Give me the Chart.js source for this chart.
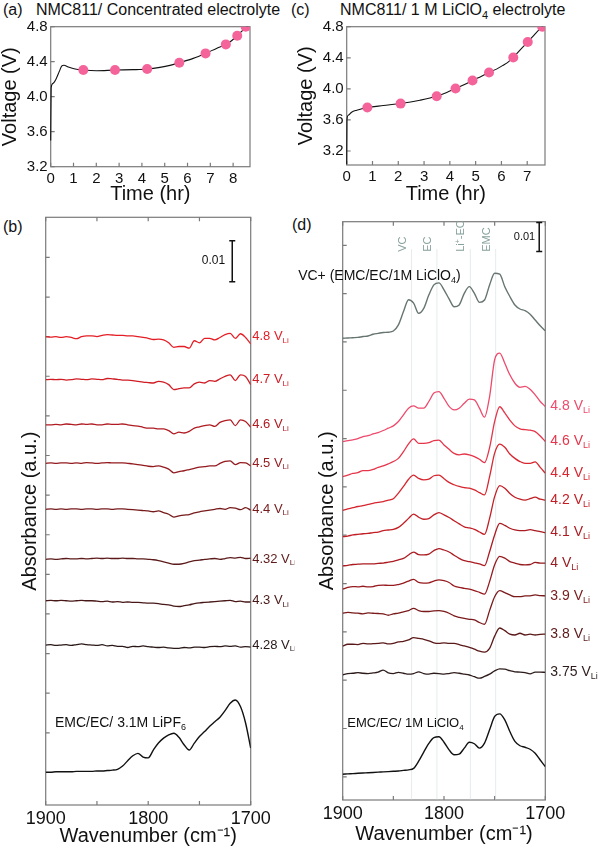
<!DOCTYPE html>
<html>
<head>
<meta charset="utf-8">
<title>NMC811 in situ IR</title>
<script src="https://cdn.jsdelivr.net/npm/chart.js@4.4.1/dist/chart.umd.min.js"></script>
<style>
  body { margin: 0; background: #fff; }
  #page { position: relative; width: 600px; height: 849px; font-family: 'Liberation Sans', Arial, sans-serif; color: #111; }
  #page canvas { position: absolute; }
  .head { position: absolute; font-size: 16px; line-height: 18px; white-space: nowrap; }
  .head sub { font-size: 11px; line-height: 0; }
</style>
</head>
<body>
<div id="page">
  <div class="head" style="left:3px; top:1px;">(a)&nbsp;&nbsp;&nbsp;NMC811/ Concentrated electrolyte</div>
  <div class="head" style="left:291px; top:1px;">(c)</div>
  <div class="head" style="left:340px; top:1px;">NMC811/ 1 M LiClO<sub>4</sub> electrolyte</div>
  <div class="head" style="left:3px; top:218px;">(b)</div>
  <div class="head" style="left:292px; top:216px;">(d)</div>
  <canvas id="chartA" width="290" height="205" style="left:0;top:0"></canvas>
  <canvas id="chartC" width="310" height="205" style="left:290px;top:0"></canvas>
  <canvas id="chartB" width="295" height="644" style="left:0;top:205px"></canvas>
  <canvas id="chartD" width="310" height="644" style="left:290px;top:205px"></canvas>
</div>
<script>
const FONT = "'Liberation Sans', Arial, sans-serif";
Chart.defaults.font.family = FONT;
Chart.defaults.color = '#111';
Chart.defaults.animation = false;

// (a) charge curve, concentrated electrolyte
const timeA = [0, 0.02, 0.09, 0.23, 0.38, 0.48, 0.58, 0.77, 1.07, 1.43, 2.01, 2.82, 3.62, 4.23, 4.79, 5.23, 5.64, 6.25, 6.79, 7.27, 7.68, 7.93, 8.18, 8.36, 8.55, 8.70];
const voltA = [3.50, 4.10, 4.15, 4.20, 4.29, 4.35, 4.36, 4.34, 4.316, 4.305, 4.297, 4.305, 4.309, 4.316, 4.335, 4.358, 4.389, 4.438, 4.495, 4.552, 4.598, 4.64, 4.697, 4.743, 4.792, 4.81];
const markTimeA = [1.43, 2.82, 4.23, 5.64, 6.79, 7.68, 8.18, 8.55];
const markVoltA = [4.305, 4.305, 4.316, 4.389, 4.495, 4.598, 4.697, 4.8];

// (c) charge curve, 1 M LiClO4
const timeC = [0, 0.01, 0.06, 0.19, 0.39, 0.8, 1.42, 2.09, 2.84, 3.49, 3.88, 4.22, 4.59, 4.88, 5.23, 5.52, 5.81, 6.07, 6.27, 6.46, 6.72, 7.02, 7.30, 7.58, 7.69];
const voltC = [3.03, 3.60, 3.66, 3.70, 3.725, 3.759, 3.785, 3.811, 3.854, 3.905, 3.953, 4.004, 4.06, 4.108, 4.163, 4.211, 4.254, 4.305, 4.348, 4.404, 4.499, 4.602, 4.705, 4.8, 4.834];
const markTimeC = [0.80, 2.09, 3.49, 4.22, 4.88, 5.52, 6.46, 7.02, 7.58];
const markVoltC = [3.76, 3.81, 3.905, 4.004, 4.108, 4.211, 4.404, 4.602, 4.8];

const voltTicks = [3.2, 3.6, 4.0, 4.4, 4.8];

// IR spectra, wavenumber grid (cm-1)
const wavenumbers = [1900, 1895, 1890, 1885, 1880, 1875, 1870, 1865, 1860, 1855, 1850, 1845, 1840, 1835, 1830, 1825, 1820, 1815, 1810, 1805, 1800, 1795, 1790, 1785, 1780, 1775, 1770, 1765, 1760, 1755, 1750, 1745, 1740, 1735, 1730, 1725, 1720, 1715, 1710, 1705, 1700];

// (b) concentrated electrolyte, absorbance change (x 10^-3) above each baseline
const potentialsB = ['4.8', '4.7', '4.6', '4.5', '4.4', '4.32', '4.3', '4.28'];
const offsetsB = [114.2, 103.7, 92.7, 83.3, 72.1, 59.9, 49.8, 39.0];
const b48 = [0, -0.1, 0, -0.2, 0, -0.2, -0.5, 0, 0.2, 0.2, 0, 0.3, 0.5, 0.4, 0.3, 0.3, 0.2, 0.2, 0, -0.2, -0.4, -0.7, -0.6, -0.8, -1.5, -2.6, -2.4, -2.4, -2.8, -1.0, -1.5, -0.4, -0.4, -0.8, -0.2, 0.5, 0.8, -0.4, 0.7, -0.2, -1.8];
const b47 = [0, 0.1, 0, 0.1, -0.1, 0, 0.2, 0.1, 0, 0.2, 0.1, 0, 0.3, 0.2, 0.1, -0.1, -0.1, -0.2, -0.4, -0.6, -0.7, -0.8, -0.4, -0.6, -1.2, -2.4, -2.2, -2.0, -2.0, -1.0, -0.6, -0.8, -0.2, -0.4, 0.2, 0.8, 1.2, -0.2, 1.2, 0.8, -1.2];
const b46 = [0, 0, 0.1, 0, 0.2, 0.1, 0, 0.2, 0.1, 0.2, 0, 0, 0.2, 0.1, 0.1, 0.2, 0, -0.2, -0.3, -0.6, -0.8, -0.8, -1.0, -1.0, -1.4, -2.2, -1.8, -2.0, -1.6, -0.8, -0.5, -0.2, 0, -0.4, 0.6, 1.0, 1.2, -0.2, 1.2, 0.8, -0.6];
const b45 = [0, 0.1, 0, 0.1, 0.1, 0, 0.1, 0, 0.2, 0.1, 0, 0.1, 0.2, 0.1, 0.1, 0.1, 0, -0.1, -0.3, -0.5, -0.7, -0.8, -0.6, -0.9, -1.4, -2.3, -2.0, -1.8, -1.5, -1.2, -0.9, -0.8, -0.6, -0.6, 0, 0.5, 0.6, -0.3, 0.2, 0.1, -0.6];
const b44 = [0, 0.1, 0, 0.1, 0, 0.1, 0.1, 0, 0.1, 0.1, 0, 0.1, 0.1, 0, 0.1, 0.1, 0, -0.1, -0.2, -0.3, -0.4, -0.6, -0.4, -0.8, -1.2, -1.9, -1.6, -1.4, -1.3, -0.9, -0.6, -0.4, -0.2, 0, 0.2, 0, 0.4, 0.3, -0.1, 0.4, -0.2];
const b432 = [0, 0.1, 0, 0.1, 0.2, 0.1, 0.1, 0.2, 0.1, 0.2, 0.3, 0.2, 0.3, 0.2, 0.2, 0.3, 0.2, 0.2, 0.1, 0.1, 0, -0.1, -0.3, -0.6, -0.9, -1.2, -1.2, -1.0, -0.6, -0.3, -0.2, 0, 0.1, 0.2, 0, 0.2, 0.4, 0.3, 0.5, 0.2, 0.3];
const b43 = [0, 0.1, 0, 0.1, 0, -0.1, 0, 0.1, 0, 0, -0.1, -0.2, -0.1, -0.3, -0.2, -0.4, -0.3, -0.4, -0.4, -0.5, -0.6, -0.6, -0.7, -0.9, -1.0, -1.3, -1.4, -1.2, -1.0, -0.7, -0.5, -0.4, -0.3, -0.2, -0.1, 0, 0.1, -0.2, -0.1, -0.3, -0.3];
const b428 = [0, 0.1, -0.1, 0, 0.1, -0.1, 0.1, 0.3, 0.1, 0, -0.1, 0.1, -0.2, -0.1, -0.3, -0.3, -0.6, -0.3, -0.4, -0.2, -0.4, -0.5, -0.6, -0.5, -0.7, -0.8, -0.8, -0.6, -0.7, -0.5, -0.5, -0.6, -0.4, -0.3, -0.4, -0.2, -0.3, -0.2, -0.5, -0.4, -0.5];
const refB = [0, 0, 0.1, 0.1, 0.1, 0.1, 0.2, 0.2, 0.2, 0.2, 0.3, 0.3, 0.4, 0.5, 0.7, 1.5, 2.8, 4.0, 4.6, 3.7, 3.5, 5.4, 7.1, 8.3, 9.1, 9.5, 8.5, 6.7, 5.4, 7.1, 8.7, 9.9, 11.2, 12.3, 13.4, 15.0, 16.8, 17.6, 16.0, 12.0, 5.9];
const refOffsetB = 8.0;
const specsB = [b48, b47, b46, b45, b44, b432, b43, b428];
const colorsB = ['#e41e26', '#d01c24', '#b01b22', '#931a1e', '#761a1b', '#5c1a1a', '#481818', '#2a1818'];

// (d) 1 M LiClO4
const potentialsD = ['4.8', '4.6', '4.4', '4.2', '4.1', '4', '3.9', '3.8', '3.75'];
const offsetsD = [123.6, 111.5, 99.8, 90.8, 80.7, 72.7, 64.4, 53.1, 43.1];
const d48 = [0, 0.3, 0.6, 1.0, 1.7, 2.0, 2.6, 3.1, 3.8, 4.6, 5.4, 6.9, 9.2, 11.5, 12.3, 11.5, 11.5, 13.8, 16.7, 17.2, 14.9, 12.1, 10.9, 11.5, 13.2, 14.6, 14.4, 11.5, 8.4, 15.5, 28.2, 30.5, 27.0, 23.0, 20.1, 18.7, 19.0, 18.0, 16.1, 13.8, 12.1];
const d46 = [0, 0.5, 1.1, 1.4, 2.1, 2.1, 2.5, 3.2, 3.7, 4.4, 5.2, 6.3, 8.6, 11.3, 13.0, 11.5, 11.5, 11.7, 12.4, 12.6, 10.9, 9.4, 8.0, 7.5, 7.8, 7.5, 6.9, 6.0, 4.8, 10.0, 19.0, 24.1, 22.0, 19.5, 17.5, 16.5, 16.2, 16.0, 15.5, 14.0, 12.1];
const d44 = [0, 0.6, 1.0, 1.4, 1.7, 2.1, 2.5, 2.8, 3.1, 3.6, 4.1, 6.0, 8.3, 10.8, 12.2, 11.1, 10.6, 10.8, 12.0, 12.2, 11.0, 9.7, 8.9, 8.3, 7.9, 7.7, 7.1, 6.2, 5.4, 11.7, 19.8, 22.9, 21.8, 19.5, 18.0, 16.9, 16.3, 16.3, 16.8, 14.9, 12.9];
const d42 = [0, 0.2, 0.6, 0.8, 1.0, 1.1, 1.4, 1.6, 2.1, 2.3, 2.5, 3.2, 4.6, 6.3, 7.8, 6.7, 6.0, 6.2, 7.5, 8.3, 7.5, 6.6, 5.5, 4.4, 3.4, 3.0, 2.5, 1.6, 0.8, 6.3, 13.8, 17.6, 16.7, 14.9, 13.6, 12.9, 12.6, 13.1, 13.6, 12.9, 12.6];
const d41 = [0, 0.2, 0.5, 0.6, 0.7, 0.7, 0.7, 0.9, 1.0, 1.3, 1.6, 2.1, 2.6, 3.8, 4.8, 3.9, 3.8, 4.1, 5.3, 6.0, 5.5, 4.8, 3.7, 2.6, 1.8, 1.5, 1.1, 0.7, 0.1, 4.9, 10.7, 14.7, 14.0, 13.0, 12.4, 12.2, 12.2, 12.5, 12.2, 11.8, 11.5];
const d40 = [0, 0.6, 0.9, 0.8, 1.0, 0.8, 0.9, 1.3, 1.4, 1.3, 1.3, 1.6, 2.1, 2.8, 3.4, 2.3, 2.1, 2.2, 2.8, 3.2, 2.9, 2.3, 1.1, 0.6, 0.3, 0, -0.5, -1.1, -1.7, 2.6, 8.4, 11.3, 10.7, 9.5, 9.0, 8.5, 8.4, 8.5, 9.2, 9.0, 9.0];
const d39 = [0, 0.3, 0.1, 0, -0.2, 0.1, 0, -0.1, -0.2, -0.7, -0.2, 0, 0.5, 0.9, 1.7, 0.9, 0.6, 0.6, 0.8, 0.9, 0.6, 0, -0.9, -1.4, -1.8, -2.1, -2.3, -3.2, -3.8, 0.9, 5.7, 7.8, 7.1, 6.3, 5.7, 5.7, 6.0, 6.0, 6.3, 6.1, 6.0];
const d38 = [0, 0.6, 0.6, 0.5, 0.9, 0.7, 0.8, 0.9, 1.1, 0.7, 0.9, 1.4, 1.6, 2.1, 2.9, 2.6, 2.3, 1.8, 1.1, 0.9, 1.1, 0.9, 0.9, 0.5, 0, -0.5, -1.1, -1.8, -2.1, -0.8, 3.4, 6.2, 5.3, 4.1, 3.8, 4.4, 3.8, 4.1, 3.8, 4.0, 4.1];
const d375 = [0, 0.5, 0.6, 0.8, 0.6, 0.5, 0.7, 1.0, 1.7, 0.7, 0.5, 0.9, 0.6, 0.3, 0.5, 1.1, 0.5, 0.3, 0.6, 0.5, 0.3, 0.5, 0.8, 0.6, 0.3, 0, -0.6, -1.1, -0.5, 0.3, 1.4, 2.1, 2.0, 1.5, 1.1, 1.0, 0.8, 0.4, 1.0, 1.0, 0.9];
const vcD = [0, 0.1, 0.2, 0.3, 0.6, 0.8, 1.4, 1.7, 2.0, 2.1, 2.5, 4.6, 9.2, 13.3, 12.1, 8.6, 10.3, 14.9, 18.4, 19.1, 16.7, 13.6, 10.9, 11.5, 15.5, 17.8, 15.5, 12.4, 13.2, 18.4, 22.4, 22.1, 17.8, 14.4, 11.5, 10.1, 9.5, 8.3, 6.3, 4.3, 2.6];
const refD = [0, 0.1, 0.2, 0.3, 0.4, 0.5, 0.6, 0.7, 0.8, 0.9, 1.0, 1.1, 1.3, 1.5, 2.0, 4.5, 7.6, 10.6, 12.6, 12.9, 11.0, 8.4, 6.7, 6.9, 9.0, 11.0, 10.5, 9.0, 10.7, 15.3, 19.9, 20.8, 18.7, 14.7, 11.3, 9.8, 9.3, 8.6, 7.2, 4.9, 2.6];
const vcOffsetD = 159.2;
const refOffsetD = 8.9;
const specsD = [d48, d46, d44, d42, d41, d40, d39, d38, d375];
const colorsD = ['#ee4a6c', '#e5354a', '#d7262f', '#c21e25', '#ab1b21', '#961a1e', '#7a1a1b', '#5a1818', '#2e1c1c'];

// band assignments in (d)
const bandWaves = [1832, 1807, 1774, 1749];
const bandNames = [[['VC', '']], [['EC', '']], [['Li', ''], ['+', 'sup'], ['-EC', '']], [['EMC', '']]];

function xy(xs, ys) { return xs.map((x, i) => ({ x: x, y: ys[i] })); }

function drawRich(ctx, parts, x, y, size, color) {
  ctx.fillStyle = color;
  ctx.textBaseline = 'middle';
  ctx.textAlign = 'left';
  let cx = x;
  parts.forEach(([text, kind]) => {
    const s = kind ? Math.round(size * 0.65) : size;
    const dy = kind === 'sub' ? size * 0.3 : (kind === 'sup' ? -size * 0.3 : 0);
    ctx.font = s + 'px ' + FONT;
    ctx.fillText(text, cx, y + dy);
    cx += ctx.measureText(text).width;
  });
}

function scaleBar(chart, w, v1, v2, tw, size) {
  const { ctx, scales } = chart;
  const x = scales.x.getPixelForValue(w);
  const y1 = scales.y.getPixelForValue(v1), y2 = scales.y.getPixelForValue(v2);
  ctx.strokeStyle = '#111';
  ctx.lineWidth = 1.5;
  ctx.beginPath();
  ctx.moveTo(x, y1); ctx.lineTo(x, y2);
  ctx.moveTo(x - 3, y1); ctx.lineTo(x + 3, y1);
  ctx.moveTo(x - 3, y2); ctx.lineTo(x + 3, y2);
  ctx.stroke();
  ctx.fillStyle = '#111';
  ctx.font = size + 'px ' + FONT;
  ctx.textAlign = 'right';
  ctx.textBaseline = 'middle';
  ctx.fillText('0.01', scales.x.getPixelForValue(tw), (y1 + y2) / 2);
}

// box round the plot and tick marks pointing inwards, drawn under the data
const framePlugin = {
  id: 'frame',
  beforeDatasetsDraw(chart, args, opts) {
    const { ctx, chartArea: a, scales } = chart;
    ctx.save();
    ctx.strokeStyle = '#7a7a7a';
    ctx.lineWidth = 1.2;
    ctx.strokeRect(a.left, a.top, a.right - a.left, a.bottom - a.top);
    ctx.beginPath();
    scales.x.ticks.forEach(t => {
      const px = scales.x.getPixelForValue(t.value);
      ctx.moveTo(px, a.bottom); ctx.lineTo(px, a.bottom - 4);
      if (opts.top) { ctx.moveTo(px, a.top); ctx.lineTo(px, a.top + 4); }
    });
    scales.y.ticks.forEach(t => {
      const py = scales.y.getPixelForValue(t.value);
      ctx.moveTo(a.left, py); ctx.lineTo(a.left + 4, py);
    });
    ctx.stroke();
    ctx.restore();
  }
};
Chart.register(framePlugin);

const noGrid = { display: false, drawTicks: false };

function voltageChart(id, c) {
  return new Chart(document.getElementById(id), {
    type: 'line',
    data: {
      datasets: [
        { data: xy(c.mt, c.mv), showLine: false, pointRadius: 5, pointHoverRadius: 5,
          pointBackgroundColor: '#f4649a', pointBorderWidth: 0 },
        { data: xy(c.t, c.v), borderColor: '#111', borderWidth: 1.1, pointRadius: 0,
          cubicInterpolationMode: 'monotone', clip: { left: 2, top: 0, right: 0, bottom: 0 } }
      ]
    },
    options: {
      responsive: false,
      layout: { padding: { top: 26.7, right: c.padRight, bottom: 0, left: 0 } },
      plugins: { legend: { display: false }, tooltip: { enabled: false }, frame: { top: false } },
      scales: {
        x: {
          type: 'linear', min: 0, max: c.xMax,
          grid: noGrid, border: { display: false },
          ticks: { stepSize: 1, includeBounds: false, maxRotation: 0, padding: 3, font: { size: 15 }, color: '#111' },
          afterFit: s => { s.height = c.xHeight; },
          title: { display: true, text: 'Time (hr)', font: { size: 20, lineHeight: 1 }, padding: { top: 0, bottom: 1 }, color: '#111' }
        },
        y: {
          min: c.yMin, max: 4.8,
          grid: noGrid, border: { display: false },
          afterBuildTicks: s => { s.ticks = voltTicks.map(v => ({ value: v })); },
          ticks: { padding: 3, font: { size: 15 }, color: '#111', callback: v => v.toFixed(1) },
          afterFit: s => { s.width = c.yWidth; },
          title: { display: true, text: 'Voltage (V)', font: { size: 20, lineHeight: 1 }, padding: { top: c.titlePad, bottom: 0 }, color: '#111' }
        }
      }
    }
  });
}

voltageChart('chartA', { t: timeA, v: voltA, mt: markTimeA, mv: markVoltA, xMax: 8.74, yMin: 3.2,
  padRight: 40, xHeight: 38.3, yWidth: 50.7, titlePad: 0 });
voltageChart('chartC', { t: timeC, v: voltC, mt: markTimeC, mv: markVoltC, xMax: 7.69, yMin: 3.02,
  padRight: 55, xHeight: 40, yWidth: 56.7, titlePad: 6.7 });

function traces(specs, offsets, colors, width) {
  return specs.map((s, i) => ({
    data: xy(wavenumbers, s.map(v => v + offsets[i])),
    borderColor: colors[i], borderWidth: width, pointRadius: 0,
    cubicInterpolationMode: 'monotone'
  }));
}

function rightLabels(names, colors, values, size, gap) {
  return {
    id: 'rightLabels',
    afterDraw(chart) {
      const { ctx, chartArea, scales } = chart;
      ctx.save();
      names.forEach((n, i) => {
        drawRich(ctx, [[n + ' V', ''], ['Li', 'sub']], chartArea.right + gap,
          scales.y.getPixelForValue(values[i]), size, colors[i]);
      });
      ctx.restore();
    }
  };
}

function spectrumChart(id, c) {
  return new Chart(document.getElementById(id), {
    type: 'line',
    data: { datasets: c.datasets },
    options: {
      responsive: false,
      layout: { padding: { top: c.padTop, right: c.padRight, bottom: 0, left: 0 } },
      plugins: { legend: { display: false }, tooltip: { enabled: false }, frame: { top: true } },
      scales: {
        x: {
          type: 'linear', reverse: true, min: 1700, max: 1900,
          grid: noGrid, border: { display: false },
          ticks: { stepSize: 50, autoSkip: false, maxRotation: 0, padding: 3, font: { size: 18 }, color: '#111',
            callback: v => (v % 100 === 0 ? String(v) : '') },
          afterFit: s => { s.height = c.xHeight; },
          title: { display: true, text: 'Wavenumber (cm\u207B\u00B9)', font: { size: 20, lineHeight: 1 },
            padding: { top: 0, bottom: c.xTitlePad }, color: '#111' }
        },
        y: {
          min: 0, max: c.yMax,
          grid: noGrid, border: { display: false },
          ticks: { display: false },
          afterBuildTicks: s => {
            const list = [];
            for (let v = c.tickStart; v < c.yMax - 1; v += c.tickStep) list.push({ value: v });
            s.ticks = list;
          },
          afterFit: s => { s.width = c.yWidth; },
          title: { display: true, text: 'Absorbance (a.u.)', font: { size: 20, lineHeight: 1 },
            padding: { top: c.yTitlePad, bottom: 0 }, color: '#111' }
        }
      }
    },
    plugins: c.plugins
  });
}

// (b)
const datasetsB = traces(specsB, offsetsB, colorsB, 1.3).concat([{
  data: xy(wavenumbers, refB.map(v => v + refOffsetB)), borderColor: '#111', borderWidth: 1.4,
  pointRadius: 0, cubicInterpolationMode: 'monotone'
}]);
const extrasB = {
  id: 'extrasB',
  afterDraw(chart) {
    const { ctx, scales } = chart;
    ctx.save();
    scaleBar(chart, 1718, 127.6, 137.6, 1725, 12);
    drawRich(ctx, [['EMC/EC/ 3.1M LiPF', ''], ['6', 'sub']], scales.x.getPixelForValue(1891),
      scales.y.getPixelForValue(19.9), 14, '#111');
    ctx.restore();
  }
};
spectrumChart('chartB', {
  datasets: datasetsB, yMax: 143.3, tickStart: 17.6, tickStep: 9.66,
  padTop: 12.3, padRight: 44.3, xHeight: 44, yWidth: 45.7, xTitlePad: 3, yTitlePad: 20,
  plugins: [rightLabels(potentialsB, colorsB, offsetsB, 13, 1.5), extrasB]
});

// (d)
const datasetsD = traces(specsD, offsetsD, colorsD, 1.3).concat([
  { data: xy(wavenumbers, vcD.map(v => v + vcOffsetD)), borderColor: '#66756f', borderWidth: 1.4,
    pointRadius: 0, cubicInterpolationMode: 'monotone' },
  { data: xy(wavenumbers, refD.map(v => v + refOffsetD)), borderColor: '#111', borderWidth: 1.4,
    pointRadius: 0, cubicInterpolationMode: 'monotone' }
]);
const endsD = specsD.map((s, i) => offsetsD[i] + s[s.length - 1]);
const extrasD = {
  id: 'extrasD',
  beforeDatasetsDraw(chart) {
    const { ctx, chartArea: a, scales } = chart;
    ctx.save();
    ctx.strokeStyle = 'rgba(200,210,215,0.45)';
    ctx.lineWidth = 1;
    ctx.beginPath();
    bandWaves.forEach(w => {
      const x = scales.x.getPixelForValue(w);
      ctx.moveTo(x, scales.y.getPixelForValue(190)); ctx.lineTo(x, a.bottom);
    });
    ctx.stroke();
    ctx.restore();
  },
  afterDraw(chart) {
    const { ctx, scales } = chart;
    ctx.save();
    bandWaves.forEach((w, i) => {
      ctx.save();
      ctx.translate(scales.x.getPixelForValue(w) - 5, scales.y.getPixelForValue(189));
      ctx.rotate(-Math.PI / 2);
      drawRich(ctx, bandNames[i], 0, -4, 11, '#86a09b');
      ctx.restore();
    });
    drawRich(ctx, [['VC+ (EMC/EC/1M LiClO', ''], ['4', 'sub'], [')', '']], scales.x.getPixelForValue(1944),
      scales.y.getPixelForValue(180.7), 14, '#111');
    drawRich(ctx, [['EMC/EC/ 1M LiClO', ''], ['4', 'sub']], scales.x.getPixelForValue(1895.5),
      scales.y.getPixelForValue(26.4), 13, '#111');
    scaleBar(chart, 1706, 189.1, 199.1, 1710, 11);
    ctx.restore();
  }
};
spectrumChart('chartD', {
  datasets: datasetsD, yMax: 199.4, tickStart: 8.0, tickStep: 16.66,
  padTop: 16.7, padRight: 54.7, xHeight: 49, yWidth: 52.7, xTitlePad: 4.5, yTitlePad: 27,
  plugins: [rightLabels(potentialsD, colorsD, endsD, 14, 5), extrasD]
});
</script>
</body>
</html>
